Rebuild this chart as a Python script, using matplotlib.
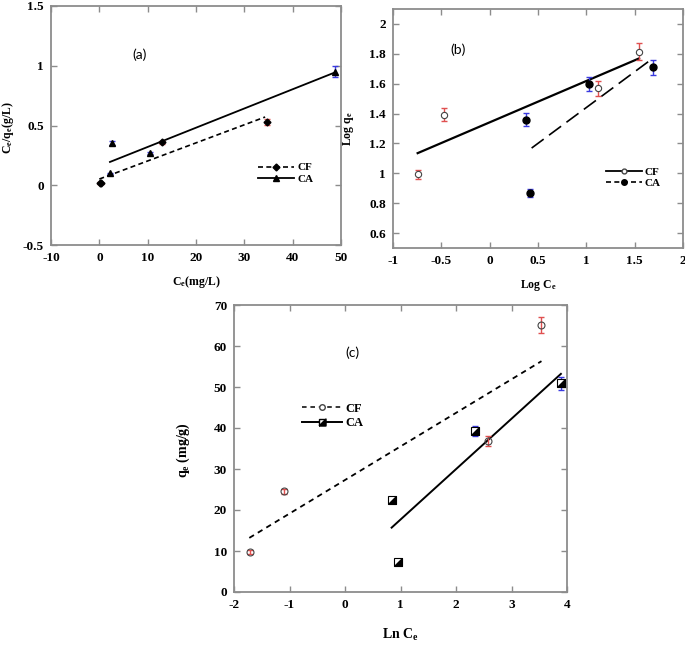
import matplotlib
matplotlib.use('Agg')
import matplotlib.pyplot as plt
from matplotlib.lines import Line2D
from matplotlib.ticker import FormatStrFormatter

plt.rcParams['font.family'] = ['Liberation Serif', 'DejaVu Serif']
plt.rcParams['font.weight'] = 'bold'
plt.rcParams['axes.labelweight'] = 'bold'
plt.rcParams['mathtext.fontset'] = 'custom'
plt.rcParams['mathtext.rm'] = 'Liberation Serif:bold'
plt.rcParams['mathtext.default'] = 'rm'

# (a) Langmuir: Ce/qe vs Ce
a_cf_x = [0.2, 0.3, 13.0, 34.7]
a_cf_y = [0.02, 0.015, 0.36, 0.53]
a_cf_err = [0.006, 0.006, 0.012, 0.025]
a_ca_x = [2.2, 2.6, 10.5, 48.8]
a_ca_y = [0.10, 0.353, 0.27, 0.95]
a_ca_err = [0.006, 0.015, 0.01, 0.045]
a_cf_fit_x = [0.0, 34.3]
a_cf_fit_y = [0.052, 0.571]
a_ca_fit_x = [2.2, 48.8]
a_ca_fit_y = [0.195, 0.945]

# (b) Freundlich: Log qe vs Log Ce
b_cf_x = [-0.745, -0.473, 1.117, 1.545]
b_cf_y = [0.995, 1.393, 1.569, 1.815]
b_cf_err = [0.03, 0.044, 0.052, 0.057]
b_ca_x = [0.372, 0.417, 1.024, 1.69]
b_ca_y = [1.358, 0.869, 1.598, 1.709]
b_ca_err = [0.044, 0.028, 0.048, 0.052]
b_cf_fit_x = [-0.745, 1.545]
b_cf_fit_y = [1.135, 1.769]
b_ca_fit_x = [0.434, 1.69]
b_ca_fit_y = [1.169, 1.771]

# (c) Temkin: qe vs Ln Ce
c_cf_x = [-1.712, -1.1, 2.57, 3.54]
c_cf_y = [9.8, 24.6, 36.8, 65.1]
c_cf_err = [0.5, 0.6, 1.2, 1.95]
c_ca_x = [0.84, 0.955, 2.35, 3.89]
c_ca_y = [22.4, 7.3, 39.3, 50.9]
c_ca_err = [0.0, 0.0, 1.25, 1.6]
c_cf_fit_x = [-1.724, 3.54]
c_cf_fit_y = [13.2, 56.3]
c_ca_fit_x = [0.84, 3.89]
c_ca_fit_y = [15.7, 53.2]

# half-filled square (lower right triangle black)
half_sq = [(-1, -1), (1, -1), (1, 1), (-1, -1)]

W, H = 685, 648
fig = plt.figure(figsize=(W / 100, H / 100), dpi=100)


def box(l, t, r, b):
    return [l / W, 1 - b / H, (r - l) / W, (b - t) / H]


def style(ax):
    for s in ax.spines.values():
        s.set_color('#8c8c8c')
        s.set_linewidth(1.3)
    ax.tick_params(direction='in', length=4, width=1, color='#8c8c8c',
                   top=True, right=True, labelsize=9.5, pad=5)
    ax.xaxis.set_major_formatter(FormatStrFormatter('%g'))
    ax.yaxis.set_major_formatter(FormatStrFormatter('%g'))


def labels(ax, xl, yl, xy, yx, yy=0.5, size=8.5):
    # label centres placed in axes coords
    ax.set_xlabel(xl, fontsize=size, va='center')
    ax.set_ylabel(yl, fontsize=size, va='center')
    ax.xaxis.set_label_coords(0.5, xy)
    ax.yaxis.set_label_coords(yx, yy)


def errpts(ax, x, y, err, ecol, **kw):
    ax.errorbar(x, y, yerr=err, fmt='none', ecolor=ecol, elinewidth=1,
                capsize=2, capthick=1, zorder=2)
    ax.plot(x, y, ls='none', zorder=3, **kw)


# ---------- (a)
ax = fig.add_axes(box(51, 6, 341, 245))
style(ax)
ax.set_xlim(-10, 50)
ax.set_ylim(-0.5, 1.5)
ax.set_xticks(range(-10, 51, 10))
ax.set_yticks([-0.5, 0, 0.5, 1, 1.5])
ax.plot(a_cf_fit_x, a_cf_fit_y, color='k', lw=1.2, dashes=(3, 2))
ax.plot(a_ca_fit_x, a_ca_fit_y, color='k', lw=1.3)
errpts(ax, a_cf_x, a_cf_y, a_cf_err, '#e05050', marker='D', ms=3.5, color='k')
errpts(ax, a_ca_x, a_ca_y, a_ca_err, '#3a3adf', marker='^', ms=4.5, color='k')
h = [Line2D([], [], color='k', lw=1.2, dashes=(3, 2), marker='D', ms=3.5),
     Line2D([], [], color='k', lw=1.3, marker='^', ms=4.5)]
ax.legend(h, ['CF', 'CA'], loc='center left', bbox_to_anchor=(0.68, 0.30),
          frameon=False, fontsize=8, handlelength=3.2, handletextpad=0.3,
          labelspacing=0.15)
ax.text(0.307, 0.795, '(a)', transform=ax.transAxes, ha='center', va='center',
        fontsize=10, fontweight='normal', family='Lato')
labels(ax, 'C$_e$(mg/L)', 'C$_e$/q$_e$(g/L)', -0.155, -0.148, 0.49)

# ---------- (b)
ax = fig.add_axes(box(393, 9, 683, 248))
style(ax)
ax.set_xlim(-1, 2)
ax.set_ylim(0.5, 2.1)
ax.set_xticks([-1, -0.5, 0, 0.5, 1, 1.5, 2])
ax.set_yticks([0.6, 0.8, 1, 1.2, 1.4, 1.6, 1.8, 2])
ax.plot(b_cf_fit_x, b_cf_fit_y, color='k', lw=1.6)
ax.plot(b_ca_fit_x, b_ca_fit_y, color='k', lw=1.2, dashes=(9, 4))
errpts(ax, b_cf_x, b_cf_y, b_cf_err, '#e05050', marker='o', ms=4.5,
       mfc='white', mec='#444444', mew=0.8)
errpts(ax, b_ca_x, b_ca_y, b_ca_err, '#3a3adf', marker='o', ms=5, color='k')
h = [Line2D([], [], color='k', lw=1.3, marker='o', ms=3.5, mfc='white', mec='#444444'),
     Line2D([], [], color='k', lw=1.2, dashes=(3, 2), marker='o', ms=4)]
ax.legend(h, ['CF', 'CA'], loc='center left', bbox_to_anchor=(0.70, 0.295),
          frameon=False, fontsize=8, handlelength=3.2, handletextpad=0.3,
          labelspacing=0.15)
ax.text(0.224, 0.828, '(b)', transform=ax.transAxes, ha='center', va='center',
        fontsize=10, fontweight='normal', family='Lato')
labels(ax, 'Log C$_e$', 'Log q$_e$', -0.155, -0.155)

# ---------- (c)
ax = fig.add_axes(box(234, 305, 567, 592))
style(ax)
ax.set_xlim(-2, 4)
ax.set_ylim(0, 70)
ax.set_xticks(range(-2, 5))
ax.set_yticks(range(0, 71, 10))
ax.plot(c_cf_fit_x, c_cf_fit_y, color='k', lw=1.3, dashes=(3, 2.5))
ax.plot(c_ca_fit_x, c_ca_fit_y, color='k', lw=1.4)
errpts(ax, c_cf_x, c_cf_y, c_cf_err, '#e05050', marker='o', ms=5,
       mfc='none', mec='#444444', mew=0.8)
errpts(ax, c_ca_x, c_ca_y, c_ca_err, '#3a3adf', marker='s', ms=5.5,
       mfc='white', mec='k', mew=0.8)
ax.plot(c_ca_x, c_ca_y, ls='none', marker=half_sq, ms=5.5, color='k', zorder=4)
h = [Line2D([], [], color='k', lw=1.1, dashes=(3, 2.5), marker='o', ms=4,
            mfc='white', mec='#444444'),
     (Line2D([], [], color='k', lw=1.4, marker='s', ms=5, mfc='white', mec='k'),
      Line2D([], [], ls='none', marker=half_sq, ms=5, color='k'))]
ax.legend(h, ['CF', 'CA'], loc='center left', bbox_to_anchor=(0.17, 0.613),
          frameon=False, fontsize=9, handlelength=3.2, handletextpad=0.3,
          labelspacing=0.2)
ax.text(0.357, 0.833, '(c)', transform=ax.transAxes, ha='center', va='center',
        fontsize=10, fontweight='normal', family='Lato')
labels(ax, 'Ln C$_e$', 'q$_e$ (mg/g)', -0.15, -0.153, 0.495, size=10)

fig.savefig('out.png', dpi=100)
